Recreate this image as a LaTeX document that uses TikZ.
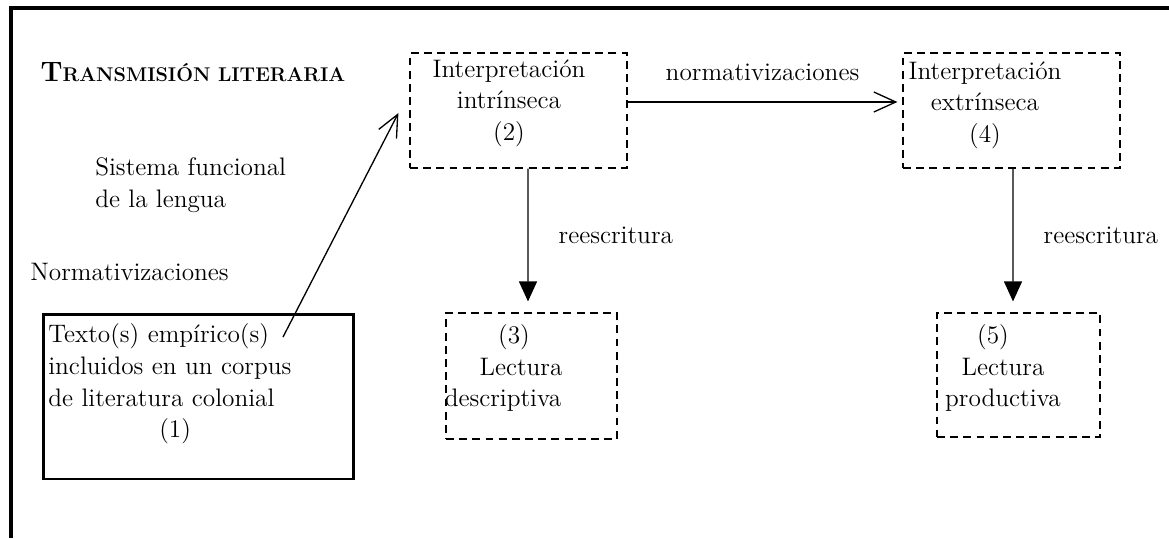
\documentclass[tikz,border=0pt]{standalone}
\usepackage{tikz}
\usetikzlibrary{arrows.meta, positioning}

\begin{document}
\begin{tikzpicture}[
    x=0.02cm, y=-0.02cm,
    every node/.style={font=\Large},
    txt/.style={inner sep=0pt, align=center},
    dbox/.style={rectangle, draw, dash pattern=on 4.5pt off 3pt, line width=0.7pt, inner sep=0pt},
    sbox/.style={rectangle, draw, line width=1.7pt, inner sep=0pt},
    openarrow/.style={-{Straight Barb[length=4.4mm, width=4mm]}, line width=0.75pt},
    fillarrow/.style={-{Triangle[length=4mm, width=3.6mm]}, line width=0.75pt},
    frame/.style={line width=2pt}
]

\useasboundingbox (0,0) rectangle (1169,538);

% Outer frame
\draw[frame] (11,538) -- (11,8) -- (1169,8);

% Title and left labels
\node[txt, font=\fontsize{16}{18}\selectfont\bfseries] (title) at (193,72) {T{\fontsize{11.3}{13}\selectfont RANSMISIÓN LITERARIA}};
\node[txt, align=left, anchor=west] (sistema) at (95,185) {Sistema funcional\\de la lengua};
\node[txt, anchor=west] (normas) at (30,272) {Normativizaciones};

% Box 1: corpus
\node[sbox, minimum width=6.22cm, minimum height=3.3cm] (corpus) at (198.5,396.5) {};
\node[txt, align=left, anchor=west, text width=5.3cm] (corpustxt) at (48,384) {
    Texto(s) empírico(s)\\
    incluidos en un corpus\\
    de literatura colonial\\
    \hspace*{2.22cm}(1)
};

% Box 2: intrinsic interpretation
\node[dbox, minimum width=4.34cm, minimum height=2.3cm] (intrin) at (518.5,110.5) {};
\node[txt] (intrintxt) at (509,103) {Interpretación\\intrínseca\\(2)};

% Box 4: extrinsic interpretation
\node[dbox, minimum width=4.34cm, minimum height=2.3cm] (extrin) at (1011.5,110.5) {};
\node[txt] (extrintxt) at (985,105) {Interpretación\\extrínseca\\(4)};

% Box 3: descriptive reading
\node[dbox, minimum width=3.42cm, minimum height=2.52cm] (descr) at (531.5,376) {};
\node[txt] (descrtxt) at (503,368) {\hspace*{0.44cm}(3)\\\hspace*{0.72cm}Lectura\\descriptiva};

% Box 5: productive reading
\node[dbox, minimum width=3.26cm, minimum height=2.48cm] (produc) at (1018.5,375) {};
\node[txt] (productxt) at (1003,368) {(5)\hspace*{0.4cm}\\Lectura\\productiva};

% Arrows
\coordinate (emp) at (283,337);
\draw[openarrow] (emp) -- ([xshift=-0.22cm, yshift=-0.05cm]intrin.west);
\draw[openarrow] ([yshift=0.17cm]intrin.east) -- ([xshift=-0.1cm, yshift=0.17cm]extrin.west)
    node[midway, above=0.42cm, inner sep=0pt] (normtxt) {normativizaciones};
\draw[fillarrow] ([xshift=0.19cm]intrin.south) -- ([xshift=-0.07cm, yshift=0.22cm]descr.north)
    node[midway, right=0.6cm, inner sep=0pt] (rees1) {reescritura};
\draw[fillarrow] ([xshift=0.03cm]extrin.south) -- ([xshift=-0.11cm, yshift=0.22cm]produc.north)
    node[midway, right=0.6cm, inner sep=0pt] (rees2) {reescritura};

\end{tikzpicture}
\end{document}
